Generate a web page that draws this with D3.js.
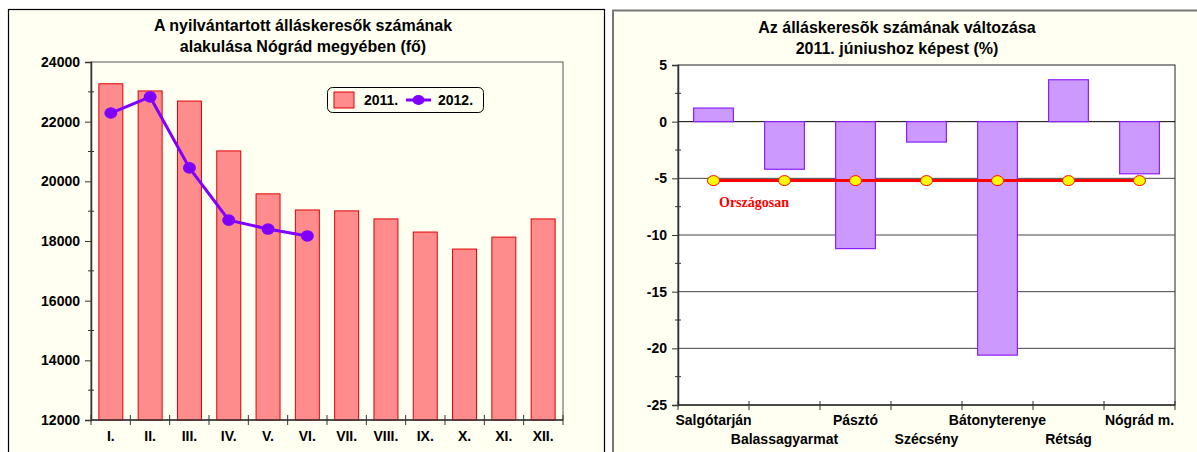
<!DOCTYPE html>
<html>
<head>
<meta charset="utf-8">
<script src="https://cdn.jsdelivr.net/npm/d3@7"></script>
<style>
  body { margin: 0; background: #fff; }
</style>
</head>
<body>
<div id="chart"></div>
<script>
// data: left chart (persons)
const months = ["I.", "II.", "III.", "IV.", "V.", "VI.", "VII.", "VIII.", "IX.", "X.", "XI.", "XII."];
const values2011 = [23270, 23030, 22690, 21020, 19580, 19040, 19010, 18740, 18300, 17730, 18130, 18740];
const values2012 = [22290, 22830, 20450, 18700, 18400, 18170];
const leftTicks = [12000, 14000, 16000, 18000, 20000, 22000, 24000];

// data: right chart (% change vs June 2011)
const towns = ["Salgótarján", "Balassagyarmat", "Pásztó", "Szécsény", "Bátonyterenye", "Rétság", "Nógrád m."];
const changes = [1.2, -4.2, -11.2, -1.8, -20.6, 3.7, -4.6];
const national = -5.2;
const rightTicks = [-25, -20, -15, -10, -5, 0, 5];

const W = 1197, H = 452;
const cream = "#FFFFF2";
const SANS = "Arial, 'Liberation Sans', sans-serif";
const LAB = 14;   // axis / legend label size
const TIT = 16;   // title size

const svg = d3.select("#chart").append("svg")
  .attr("width", W).attr("height", H)
  .style("font-family", SANS).style("font-weight", "bold");

/* ---------- LEFT PANEL ---------- */
svg.append("rect").attr("x", 8.5).attr("y", 9.5).attr("width", 596).attr("height", 460)
  .attr("fill", cream).attr("stroke", "#000").attr("stroke-width", 1.2);

const L = { left: 91, right: 563, top: 62, bottom: 420 };

svg.append("text").attr("x", 303).attr("y", 31).attr("text-anchor", "middle")
  .attr("font-size", TIT).text("A nyilvántartott álláskeresők számának");
svg.append("text").attr("x", 303).attr("y", 52).attr("text-anchor", "middle")
  .attr("font-size", TIT).text("alakulása Nógrád megyében (fő)");

const xL = d3.scaleBand().domain(months).range([L.left, L.right])
  .paddingInner(0.39).paddingOuter(0.2);
const yL = d3.scaleLinear().domain([12000, 24000]).range([L.bottom, L.top]);

// plot area
svg.append("rect").attr("x", L.left).attr("y", L.top)
  .attr("width", L.right - L.left).attr("height", L.bottom - L.top)
  .attr("fill", cream).attr("stroke", "#555").attr("stroke-width", 1);

svg.selectAll("rect.bar2011")
  .data(values2011)
  .join("rect")
  .attr("class", "bar2011")
  .attr("x", (d, i) => xL(months[i]))
  .attr("width", xL.bandwidth())
  .attr("y", d => yL(d))
  .attr("height", d => yL(12000) - yL(d))
  .attr("fill", "#FF8C8C")
  .attr("stroke", "#DD0000")
  .attr("stroke-width", 1);

// y axis
const yAxisL = svg.append("g").attr("transform", `translate(${L.left},0)`)
  .call(d3.axisLeft(yL).tickValues(leftTicks).tickSize(6).tickFormat(d => String(d)));
yAxisL.select(".domain").attr("stroke", "#333").attr("stroke-width", 1.5);
yAxisL.selectAll("line").attr("stroke", "#333");
yAxisL.selectAll("text").attr("font-size", LAB).attr("font-weight", "bold")
  .attr("font-family", SANS).attr("fill", "#000").attr("dx", -2);
// minor ticks
svg.selectAll("line.minorL")
  .data(d3.range(13000, 24000, 2000))
  .join("line")
  .attr("x1", L.left - 3).attr("x2", L.left + 3)
  .attr("y1", d => yL(d)).attr("y2", d => yL(d))
  .attr("stroke", "#333");

// x axis
svg.append("line").attr("x1", L.left).attr("x2", L.right)
  .attr("y1", L.bottom).attr("y2", L.bottom).attr("stroke", "#333").attr("stroke-width", 1.5);
const stepL = (L.right - L.left) / months.length;
svg.selectAll("line.xtickL")
  .data(d3.range(months.length + 1))
  .join("line")
  .attr("x1", i => L.left + i * stepL).attr("x2", i => L.left + i * stepL)
  .attr("y1", L.bottom - 5).attr("y2", L.bottom + 5)
  .attr("stroke", "#333");
svg.selectAll("text.xlabL")
  .data(months)
  .join("text")
  .attr("x", d => xL(d) + xL.bandwidth() / 2)
  .attr("y", 441)
  .attr("text-anchor", "middle")
  .attr("font-size", LAB)
  .text(d => d);

// 2012 line
const line2012 = d3.line()
  .x((d, i) => xL(months[i]) + xL.bandwidth() / 2)
  .y(d => yL(d));
svg.append("path").datum(values2012)
  .attr("d", line2012).attr("fill", "none")
  .attr("stroke", "#7F00FF").attr("stroke-width", 3);
svg.selectAll("ellipse.dot2012")
  .data(values2012)
  .join("ellipse")
  .attr("cx", (d, i) => xL(months[i]) + xL.bandwidth() / 2)
  .attr("cy", d => yL(d))
  .attr("rx", 6.5).attr("ry", 5.8)
  .attr("fill", "#7F00FF");

// legend
const lg = svg.append("g").attr("transform", "translate(327,87)");
lg.append("rect").attr("x", 0.5).attr("y", 0.5).attr("width", 156).attr("height", 25).attr("rx", 5)
  .attr("fill", cream).attr("stroke", "#000");
lg.append("rect").attr("x", 7).attr("y", 5).attr("width", 20).attr("height", 16)
  .attr("fill", "#FF8C8C").attr("stroke", "#DD0000");
lg.append("text").attr("x", 37).attr("y", 18).attr("font-size", LAB).text("2011.");
lg.append("line").attr("x1", 79).attr("x2", 104).attr("y1", 13).attr("y2", 13)
  .attr("stroke", "#7F00FF").attr("stroke-width", 3);
lg.append("ellipse").attr("cx", 91.5).attr("cy", 13).attr("rx", 6).attr("ry", 5)
  .attr("fill", "#7F00FF");
lg.append("text").attr("x", 111).attr("y", 18).attr("font-size", LAB).text("2012.");

/* ---------- RIGHT PANEL ---------- */
svg.append("rect").attr("x", 613).attr("y", 10.5).attr("width", 600).attr("height", 460)
  .attr("fill", cream).attr("stroke", "#777").attr("stroke-width", 2);

const R = { left: 678, right: 1175, top: 65, bottom: 405 };

svg.append("text").attr("x", 897).attr("y", 33).attr("text-anchor", "middle")
  .attr("font-size", TIT).text("Az álláskeresõk számának változása");
svg.append("text").attr("x", 897).attr("y", 54).attr("text-anchor", "middle")
  .attr("font-size", TIT).text("2011. júniushoz képest (%)");

const xR = d3.scaleBand().domain(towns).range([R.left, R.right])
  .paddingInner(0.44).paddingOuter(0.22);
const yR = d3.scaleLinear().domain([-25, 5]).range([R.bottom, R.top]);

svg.append("rect").attr("x", R.left).attr("y", R.top)
  .attr("width", R.right - R.left).attr("height", R.bottom - R.top)
  .attr("fill", "#fff").attr("stroke", "#222").attr("stroke-width", 1);

// gridlines
svg.selectAll("line.gridR")
  .data(rightTicks.filter(d => d > -25 && d < 5))
  .join("line")
  .attr("x1", R.left).attr("x2", R.right)
  .attr("y1", d => yR(d)).attr("y2", d => yR(d))
  .attr("stroke", d => d === 0 ? "#000" : "#444")
  .attr("stroke-width", 1);

svg.selectAll("rect.barR")
  .data(changes)
  .join("rect")
  .attr("class", "barR")
  .attr("x", (d, i) => xR(towns[i]))
  .attr("width", xR.bandwidth())
  .attr("y", d => yR(Math.max(0, d)))
  .attr("height", d => Math.abs(yR(d) - yR(0)))
  .attr("fill", "#CC99FF")
  .attr("stroke", "#8B1FFF")
  .attr("stroke-width", 1.2);

// national line
const natLine = d3.line()
  .x(d => xR(d) + xR.bandwidth() / 2)
  .y(() => yR(national));
svg.append("path").datum(towns)
  .attr("d", natLine).attr("fill", "none")
  .attr("stroke", "#FF0000").attr("stroke-width", 3);
svg.selectAll("ellipse.natDot")
  .data(towns)
  .join("ellipse")
  .attr("cx", d => xR(d) + xR.bandwidth() / 2)
  .attr("cy", yR(national))
  .attr("rx", 6).attr("ry", 5)
  .attr("fill", "#FFFF00").attr("stroke", "#FF0000").attr("stroke-width", 1);
svg.append("text").attr("x", 719).attr("y", 207)
  .style("font-family", "'Times New Roman', 'Liberation Serif', serif")
  .attr("font-size", 14).attr("fill", "#FF0000").text("Országosan");

// y axis
const yAxisR = svg.append("g").attr("transform", `translate(${R.left},0)`)
  .call(d3.axisLeft(yR).tickValues(rightTicks).tickSize(6).tickFormat(d => String(d)));
yAxisR.select(".domain").attr("stroke", "#333").attr("stroke-width", 1.5);
yAxisR.selectAll("line").attr("stroke", "#333");
yAxisR.selectAll("text").attr("font-size", LAB).attr("font-weight", "bold")
  .attr("font-family", SANS).attr("fill", "#000").attr("dx", -2);
svg.selectAll("line.minorR")
  .data(d3.range(-22.5, 5, 5))
  .join("line")
  .attr("x1", R.left - 3).attr("x2", R.left + 3)
  .attr("y1", d => yR(d)).attr("y2", d => yR(d))
  .attr("stroke", "#333");

// x axis
svg.append("line").attr("x1", R.left).attr("x2", R.right)
  .attr("y1", R.bottom).attr("y2", R.bottom).attr("stroke", "#333").attr("stroke-width", 1.5);
const stepR = (R.right - R.left) / towns.length;
svg.selectAll("line.xtickR")
  .data(d3.range(towns.length + 1))
  .join("line")
  .attr("x1", i => R.left + i * stepR).attr("x2", i => R.left + i * stepR)
  .attr("y1", R.bottom - 4).attr("y2", R.bottom + 5)
  .attr("stroke", "#333");
svg.selectAll("text.xlabR")
  .data(towns)
  .join("text")
  .attr("x", d => xR(d) + xR.bandwidth() / 2)
  .attr("y", (d, i) => i % 2 === 0 ? 425 : 444)
  .attr("text-anchor", "middle")
  .attr("font-size", LAB)
  .text(d => d);
</script>
</body>
</html>
